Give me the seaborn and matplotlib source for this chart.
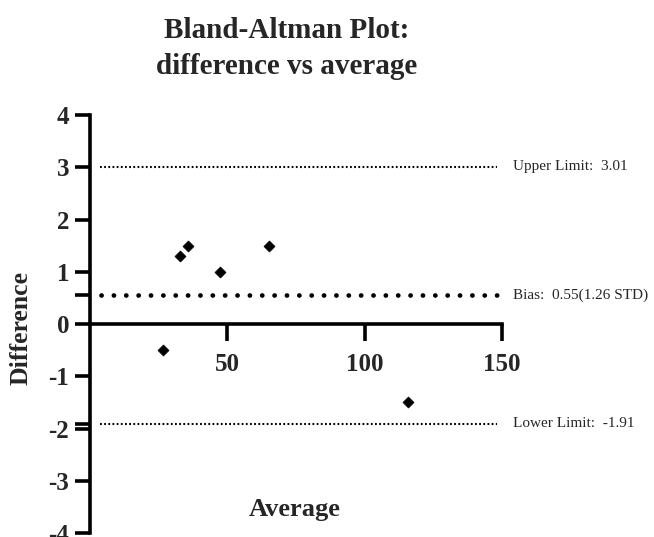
import matplotlib
matplotlib.use("Agg")
import matplotlib.pyplot as plt
import seaborn as sns
import pandas as pd

sns.set_style("white")
plt.rcParams["font.family"] = ["Liberation Serif", "DejaVu Serif"]
plt.rcParams["lines.scale_dashes"] = False
plt.rcParams["axes.unicode_minus"] = False

# data
average = [26.5, 32.7, 35.7, 47.3, 65.2, 115.6]
difference = [-0.5, 1.3, 1.5, 1.0, 1.5, -1.5]
bias = 0.55
bias_std = 1.26
upper_limit = 3.01
lower_limit = -1.91
x_ticks = [50, 100, 150]
y_ticks = [-4, -3, -2, -1, 0, 1, 2, 3, 4]

df = pd.DataFrame({"Average": average, "Difference": difference})

fig = plt.figure(figsize=(6.54, 5.37), dpi=100)
ax = fig.add_axes([0.1376, 0.0074, 0.630, 0.778])

# limit lines
ax.hlines([upper_limit, lower_limit], 3.5, 148, colors="black",
          linewidth=1.5, linestyles=[(0, (1.3, 1.7))])
bias_line = ax.hlines(bias, 4, 148, colors="black", linewidth=3.4,
                      linestyles=[(0, (0.1, 8.8))])
bias_line.set_capstyle("round")

sns.scatterplot(data=df, x="Average", y="Difference", marker="D", s=32,
                color="black", edgecolor="black", ax=ax, zorder=5)

ax.set_xlim(0, 150)
ax.set_ylim(-4, 4)
ax.spines["left"].set_position(("data", 0))
ax.spines["bottom"].set_position(("data", 0))
ax.spines["right"].set_visible(False)
ax.spines["top"].set_visible(False)
for s in ["left", "bottom"]:
    ax.spines[s].set_linewidth(2.6)
    ax.spines[s].set_color("black")

ax.set_xticks(x_ticks)
ax.set_yticks(y_ticks)
# Prism-style extra ticks where the bias / lower limit lines meet the axis
ax.set_yticks([bias, lower_limit], minor=True)
ax.tick_params(axis="both", which="both", direction="out", width=2.6,
               labelsize=18, color="black", bottom=True, left=True)
ax.tick_params(axis="y", which="both", length=11, pad=4)
ax.tick_params(axis="x", length=12, pad=9)
for lab in ax.get_xticklabels() + ax.get_yticklabels():
    lab.set_fontweight("bold")

ax.set_xlabel("Average", fontsize=19, fontweight="bold")
ax.xaxis.set_label_coords(0.497, 0.085)
ax.set_ylabel("Difference", fontsize=18.5, fontweight="bold")
ax.yaxis.set_label_coords(-0.14, 0.49)

ax.text(154, upper_limit, "Upper Limit:  3.01", fontsize=11, va="center",
        ha="left", clip_on=False)
ax.text(154, bias, f"Bias:  {bias}({bias_std} STD)", fontsize=11, va="center",
        ha="left", clip_on=False)
ax.text(154, lower_limit, "Lower Limit:  -1.91", fontsize=11, va="center",
        ha="left", clip_on=False)

fig.text(0.439, 0.91, "Bland-Altman Plot:\ndifference vs average", fontsize=21,
         fontweight="bold", ha="center", va="center", linespacing=1.4)

fig.savefig("out.png", dpi=100)
